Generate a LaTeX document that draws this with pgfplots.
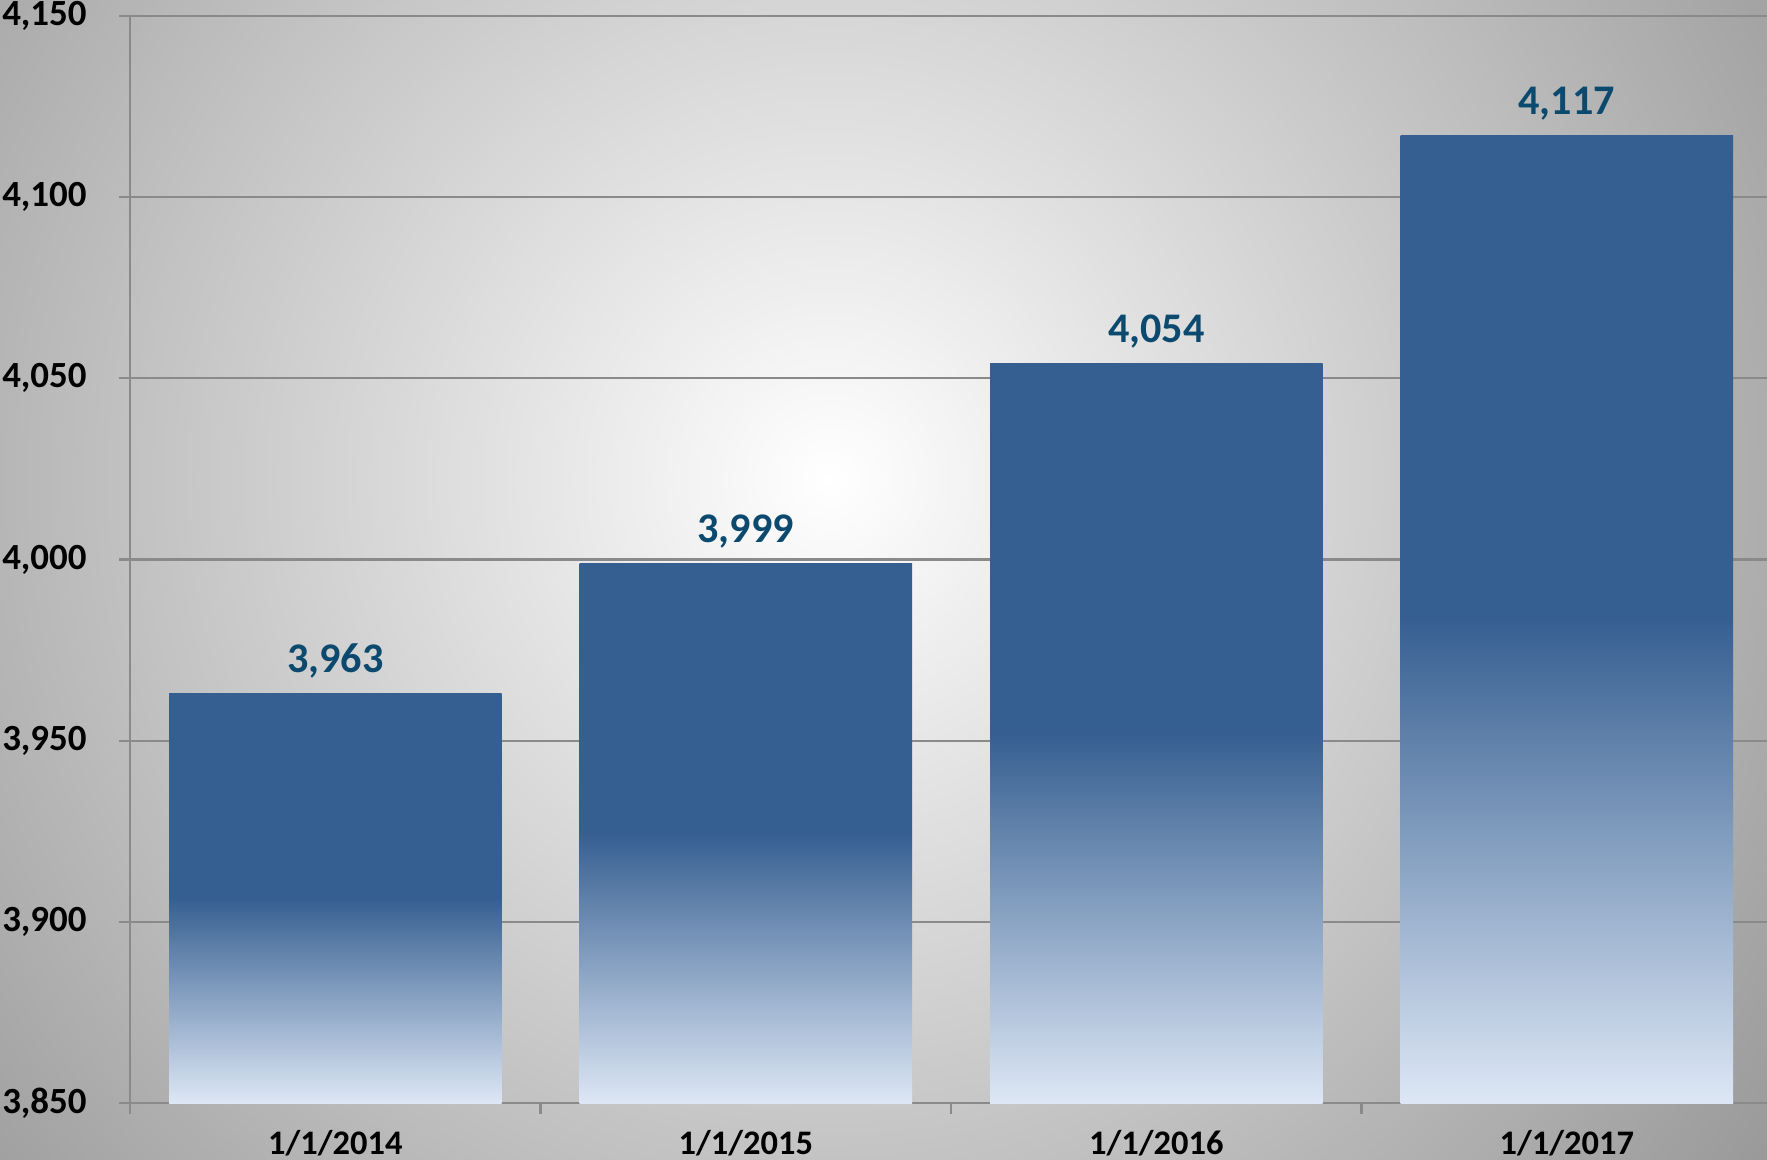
\documentclass[border=0pt]{standalone}
\usepackage{fontspec}
\setmainfont{Carlito}
\usepackage{pgfplots}
\pgfplotsset{compat=1.18}

\definecolor{bardark}{HTML}{365F91}
\definecolor{barlight}{HTML}{DDE7F5}
\definecolor{lblblue}{HTML}{0B4A6E}
\definecolor{gridgray}{HTML}{8A8A8A}
\definecolor{bgouter}{HTML}{939393}

% solid dark in the top half of each bar, fading to light at the base
\pgfdeclareverticalshading{barshade}{100bp}{%
  color(0bp)=(barlight); color(25bp)=(barlight);
  color(50bp)=(bardark); color(100bp)=(bardark)}

\begin{document}
\begin{tikzpicture}
\useasboundingbox (0,0) rectangle (17.67,11.59);
\begin{scope}
  \clip (0,0) rectangle (17.67,11.59);
  \shade[inner color=white, outer color=bgouter] (8.3,6.8) circle (12.3);
\end{scope}
\begin{axis}[
    at={(1.30cm,0.56cm)}, anchor=south west,
    scale only axis,
    width=16.42cm, height=10.87cm,
    xmin=-0.5, xmax=3.5,
    ymin=3850, ymax=4150,
    ytick={3850,3900,...,4150},
    xtick={-0.5,0.5,1.5,2.5,3.5},
    xticklabels={},
    extra x ticks={0,1,2,3},
    extra x tick labels={1/1/2014,1/1/2015,1/1/2016,1/1/2017},
    extra x tick style={major tick length=0pt, grid=none},
    axis x line*=bottom, axis y line*=left,
    axis line style={draw=gridgray, line width=0.6pt},
    tick align=outside,
    major tick length=0.11cm,
    tick style={draw=gridgray, line width=0.6pt},
    ymajorgrids,
    grid style={draw=gridgray, line width=0.6pt},
    /pgf/number format/assume math mode=true,
    /pgf/number format/1000 sep={,},
    yticklabel style={font=\fontsize{10.5}{12}\selectfont\bfseries, xshift=-0.2cm},
    xticklabel style={font=\fontsize{9.8}{11}\selectfont\bfseries, yshift=-0.15cm},
    ybar, bar width=0.81, bar shift=0pt,
    every axis plot/.append style={draw=none, shade, shading=barshade},
    nodes near coords,
    nodes near coords style={font=\fontsize{12}{14}\selectfont\bfseries,
      text=lblblue, anchor=base, yshift=0.21cm},
]
% one plot per bar so that each bar gets its own shading
\addplot coordinates {(0,3963)};
\addplot coordinates {(1,3999)};
\addplot coordinates {(2,4054)};
\addplot coordinates {(3,4117)};
\end{axis}
\end{tikzpicture}
\end{document}
